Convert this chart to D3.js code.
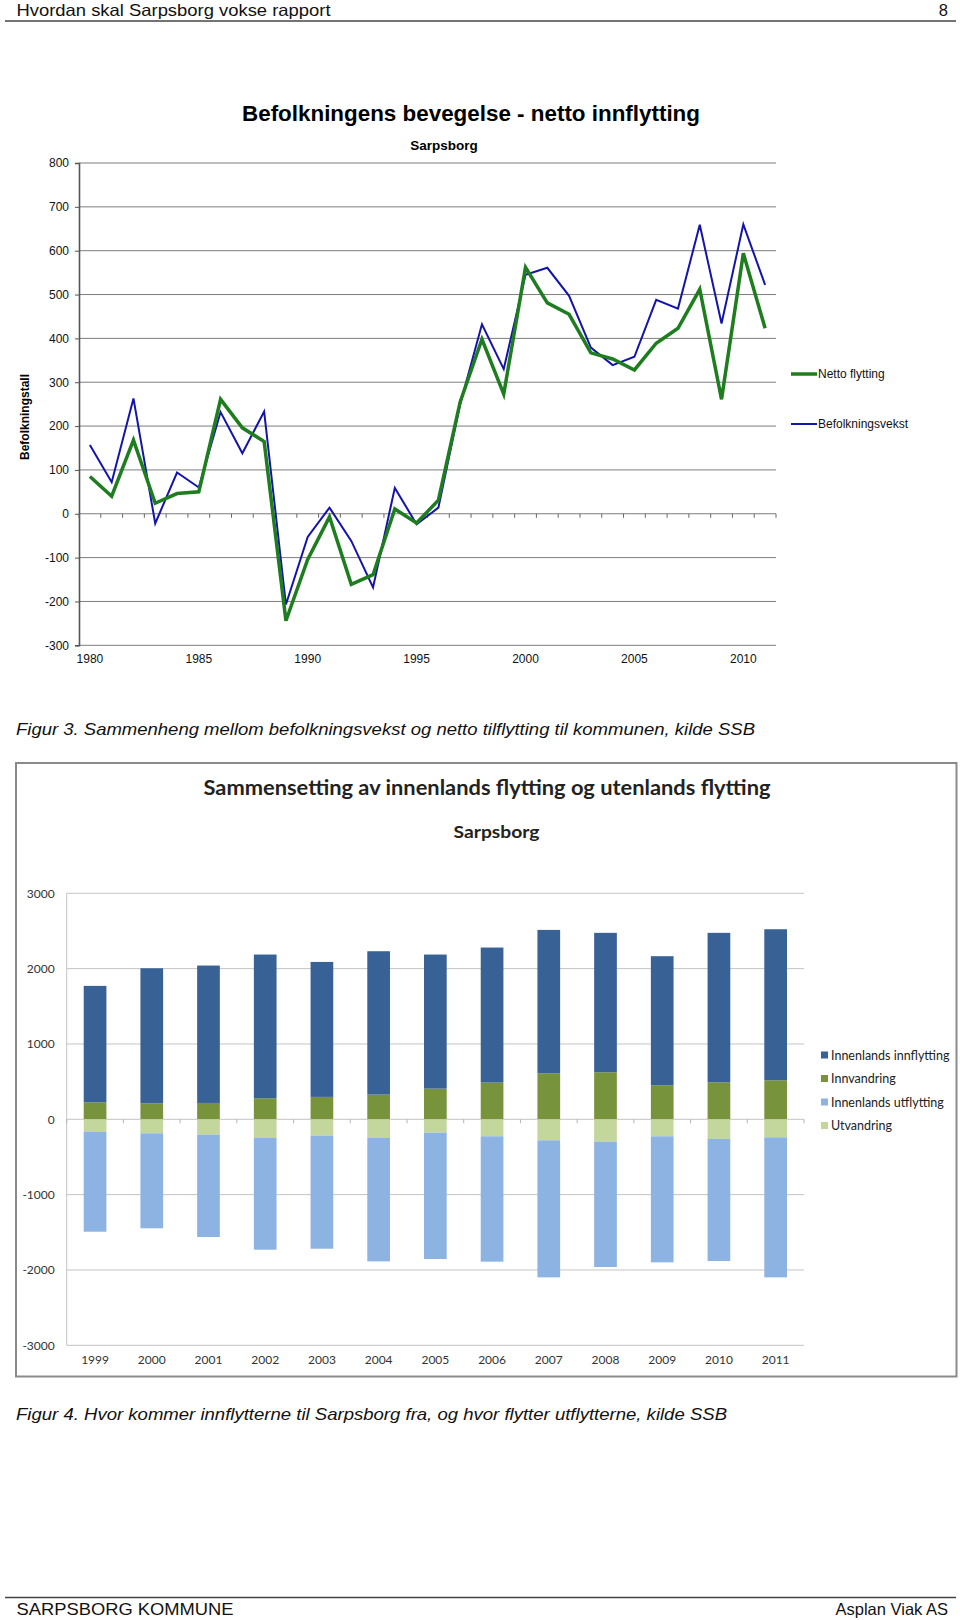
<!DOCTYPE html>
<html><head><meta charset="utf-8">
<script src="https://cdn.jsdelivr.net/npm/d3@7/dist/d3.min.js"></script>
<style>
body{margin:0;background:#fff;}
svg{display:block;}
</style></head>
<body>
<svg id="page" width="960" height="1620"></svg>
<script>
// ---------- Data: Figure 3 (line chart) ----------
const years1 = [1980,1981,1982,1983,1984,1985,1986,1987,1988,1989,1990,1991,1992,1993,1994,1995,
                1996,1997,1998,1999,2000,2001,2002,2003,2004,2005,2006,2007,2008,2009,2010,2011];
const nettoFlytting = [85,40,168,24,46,50,261,196,165,-244,-104,-7,-161,-139,11,-21,
                       31,255,398,273,562,481,455,367,353,328,389,423,512,261,594,423];
const befolkningsvekst = [157,72,263,-22,94,60,232,138,233,-207,-53,14,-62,-168,59,-24,
                          14,250,432,330,545,561,497,379,339,358,488,468,659,434,660,522];
const yTicks1 = [-300,-200,-100,0,100,200,300,400,500,600,700,800];
const xLabels1 = [1980,1985,1990,1995,2000,2005,2010];
const seriesNames1 = ["Netto flytting","Befolkningsvekst"];

// ---------- Data: Figure 4 (stacked bars) ----------
const years2 = ["1999","2000","2001","2002","2003","2004","2005","2006","2007","2008","2009","2010","2011"];
const innenlandsInnflytting = [1545,1793,1824,1908,1792,1903,1780,1793,1903,1851,1713,1984,2005];
const innvandring = [226,212,217,279,297,328,407,487,611,624,452,491,518];
const innenlandsUtflytting = [-1324,-1261,-1359,-1483,-1501,-1638,-1678,-1664,-1819,-1664,-1673,-1620,-1859];
const utvandring = [-168,-186,-204,-248,-217,-248,-177,-226,-279,-297,-226,-261,-239];
const yTicks2 = [-3000,-2000,-1000,0,1000,2000,3000];
const seriesNames2 = ["Innenlands innflytting","Innvandring","Innenlands utflytting","Utvandring"];

const svg = d3.select("#page");
const ARIAL = "'Liberation Sans', Arial, sans-serif";
const CAL = "Lato, 'Open Sans', sans-serif";
const plain = d => String(d);

// ---------- Page header / footer ----------
svg.append("text").attr("x",16.5).attr("y",16).attr("font-family",ARIAL).attr("font-size",16.5)
  .attr("textLength",314).attr("lengthAdjust","spacingAndGlyphs").attr("fill","#111")
  .text("Hvordan skal Sarpsborg vokse rapport");
svg.append("text").attr("x",948).attr("y",16).attr("text-anchor","end").attr("font-family",ARIAL)
  .attr("font-size",16.5).attr("fill","#111").text("8");
svg.append("line").attr("x1",5).attr("x2",956).attr("y1",21).attr("y2",21).attr("stroke","#444").attr("stroke-width",1.3);

svg.append("line").attr("x1",5).attr("x2",956).attr("y1",1597.5).attr("y2",1597.5).attr("stroke","#444").attr("stroke-width",1.3);
svg.append("text").attr("x",16.5).attr("y",1615).attr("font-family",ARIAL).attr("font-size",16.5)
  .attr("textLength",217).attr("lengthAdjust","spacingAndGlyphs").attr("fill","#111").text("SARPSBORG KOMMUNE");
svg.append("text").attr("x",948).attr("y",1615).attr("text-anchor","end").attr("font-family",ARIAL)
  .attr("font-size",16.5).attr("fill","#111").text("Asplan Viak AS");

// ---------- Figure 3 ----------
const g1 = svg.append("g");
const x1 = d3.scaleBand().domain(years1).range([79,776]);
const y1 = d3.scaleLinear().domain([-300,800]).range([645.3,163]);

g1.append("text").attr("x",471).attr("y",121).attr("text-anchor","middle").attr("font-family",ARIAL)
  .attr("font-weight","bold").attr("font-size",22).attr("textLength",458).attr("lengthAdjust","spacingAndGlyphs")
  .attr("fill","#000").text("Befolkningens bevegelse - netto innflytting");
g1.append("text").attr("x",444).attr("y",150).attr("text-anchor","middle").attr("font-family",ARIAL)
  .attr("font-weight","bold").attr("font-size",13.5).attr("fill","#000").text("Sarpsborg");

// gridlines
g1.append("g").selectAll("line").data(yTicks1).join("line")
  .attr("x1",79).attr("x2",776).attr("y1",d=>y1(d)).attr("y2",d=>y1(d))
  .attr("stroke","#7d7d7d").attr("stroke-width",1);

// y axis
const yAxis1 = d3.axisLeft(y1).tickValues(yTicks1).tickFormat(plain).tickSize(4).tickPadding(6);
const ya1 = g1.append("g").attr("transform","translate(79,0)").call(yAxis1);
ya1.select(".domain").attr("stroke","#555").attr("stroke-width",1.6);
ya1.selectAll(".tick line").attr("stroke","#555");
ya1.selectAll("text").attr("font-family",ARIAL).attr("font-size",12).attr("fill","#111");

// x axis on zero line with boundary ticks
const bw1 = x1.bandwidth();
g1.append("g").selectAll("line").data(years1.concat([null])).join("line")
  .attr("x1",(d,i)=>79+i*bw1).attr("x2",(d,i)=>79+i*bw1)
  .attr("y1",y1(0)).attr("y2",y1(0)+4).attr("stroke","#666").attr("stroke-width",1);
const xAxis1 = d3.axisBottom(x1).tickValues(xLabels1).tickFormat(plain).tickSize(0).tickPadding(9);
const xa1 = g1.append("g").attr("transform",`translate(0,${y1(-300)})`).call(xAxis1);
xa1.select(".domain").remove();
xa1.selectAll("text").attr("font-family",ARIAL).attr("font-size",12).attr("fill","#111");

// y axis title
g1.append("text").attr("transform","translate(29,417) rotate(-90)").attr("text-anchor","middle")
  .attr("font-family",ARIAL).attr("font-weight","bold").attr("font-size",12).attr("fill","#000").text("Befolkningstall");

// lines
const line1 = vals => d3.line().x((d,i)=>x1(years1[i])+bw1/2).y(d=>y1(d))(vals);
g1.append("path").attr("d",line1(befolkningsvekst)).attr("fill","none").attr("stroke","#1414aa").attr("stroke-width",2);
g1.append("path").attr("d",line1(nettoFlytting)).attr("fill","none").attr("stroke","#1e7d1e").attr("stroke-width",3.5)
  .attr("stroke-linejoin","miter");

// legend
const leg1 = [{name:seriesNames1[0],col:"#1e7d1e",w:3.5,y:374},{name:seriesNames1[1],col:"#1414aa",w:2,y:424}];
leg1.forEach(l=>{
  g1.append("line").attr("x1",791).attr("x2",817).attr("y1",l.y).attr("y2",l.y).attr("stroke",l.col).attr("stroke-width",l.w);
  g1.append("text").attr("x",818).attr("y",l.y+4).attr("font-family",ARIAL).attr("font-size",12).attr("fill","#111").text(l.name);
});

// caption 3
svg.append("text").attr("x",16).attr("y",735).attr("font-family",ARIAL).attr("font-style","italic").attr("font-size",17)
  .attr("textLength",739).attr("lengthAdjust","spacingAndGlyphs").attr("fill","#111")
  .text("Figur 3. Sammenheng mellom befolkningsvekst og netto tilflytting til kommunen, kilde SSB");

// ---------- Figure 4 ----------
const g2 = svg.append("g");
g2.append("rect").attr("x",16).attr("y",763).attr("width",940.5).attr("height",613.5)
  .attr("fill","#fff").attr("stroke","#8a8a8a").attr("stroke-width",2);
g2.append("text").attr("x",487).attr("y",795).attr("text-anchor","middle").attr("font-family",CAL)
  .attr("font-weight","bold").attr("font-size",20).attr("textLength",567).attr("lengthAdjust","spacingAndGlyphs")
  .attr("fill","#222").text("Sammensetting av innenlands flytting og utenlands flytting");
g2.append("text").attr("x",496.5).attr("y",838).attr("text-anchor","middle").attr("font-family",CAL)
  .attr("font-weight","bold").attr("font-size",17).attr("textLength",86).attr("lengthAdjust","spacingAndGlyphs")
  .attr("fill","#222").text("Sarpsborg");

const x2 = d3.scaleBand().domain(years2).range([66.7,804]).paddingInner(0.6).paddingOuter(0.3);
const y2 = d3.scaleLinear().domain([-3000,3000]).range([1345.3,893.3]);

g2.append("g").selectAll("line").data(yTicks2).join("line")
  .attr("x1",66.7).attr("x2",804).attr("y1",d=>y2(d)).attr("y2",d=>y2(d))
  .attr("stroke","#c4c4c4").attr("stroke-width",1);
g2.append("line").attr("x1",66.7).attr("x2",66.7).attr("y1",y2(3000)).attr("y2",y2(-3000)).attr("stroke","#c4c4c4");

const ya2 = g2.append("g").attr("transform","translate(66.7,0)")
  .call(d3.axisLeft(y2).tickValues(yTicks2).tickFormat(plain).tickSize(0).tickPadding(12));
ya2.select(".domain").remove();
ya2.selectAll("text").attr("font-family",CAL).attr("font-size",12).attr("fill","#333");

// zero axis boundary ticks
const step2 = x2.step();
g2.append("g").selectAll("line").data(years2.concat(["end"])).join("line")
  .attr("x1",(d,i)=>66.7+i*step2).attr("x2",(d,i)=>66.7+i*step2)
  .attr("y1",y2(0)).attr("y2",y2(0)+4).attr("stroke","#b5b5b5");

const xa2 = g2.append("g").attr("transform",`translate(0,${y2(-3000)})`)
  .call(d3.axisBottom(x2).tickSize(0).tickPadding(10));
xa2.select(".domain").remove();
xa2.selectAll("text").attr("font-family",CAL).attr("font-size",12).attr("fill","#333");

// stacked bars
const colors2 = ["#386295","#77933c","#8db3e2","#c3d69b"];
const bars = g2.append("g");
years2.forEach((yr,i)=>{
  const bx = x2(yr), bwid = x2.bandwidth();
  const segs = [
    {v0:0, v1:innvandring[i], c:colors2[1]},
    {v0:innvandring[i], v1:innvandring[i]+innenlandsInnflytting[i], c:colors2[0]},
    {v0:0, v1:utvandring[i], c:colors2[3]},
    {v0:utvandring[i], v1:utvandring[i]+innenlandsUtflytting[i], c:colors2[2]}
  ];
  segs.forEach(s=>{
    bars.append("rect").attr("x",bx).attr("width",bwid)
      .attr("y",Math.min(y2(s.v0),y2(s.v1))).attr("height",Math.abs(y2(s.v1)-y2(s.v0))).attr("fill",s.c);
  });
});

// legend 2
const leg2 = [{n:seriesNames2[0],c:colors2[0],y:1055},{n:seriesNames2[1],c:colors2[1],y:1078.5},
              {n:seriesNames2[2],c:colors2[2],y:1102},{n:seriesNames2[3],c:colors2[3],y:1125.5}];
leg2.forEach(l=>{
  g2.append("rect").attr("x",821).attr("y",l.y-3.5).attr("width",7).attr("height",7).attr("fill",l.c);
  g2.append("text").attr("x",831).attr("y",l.y+4.5).attr("font-family",CAL).attr("font-size",12.5).attr("fill","#222").text(l.n);
});

// caption 4
svg.append("text").attr("x",16).attr("y",1420).attr("font-family",ARIAL).attr("font-style","italic").attr("font-size",17)
  .attr("textLength",711).attr("lengthAdjust","spacingAndGlyphs").attr("fill","#111")
  .text("Figur 4. Hvor kommer innflytterne til Sarpsborg fra, og hvor flytter utflytterne, kilde SSB");
</script>
</body></html>
